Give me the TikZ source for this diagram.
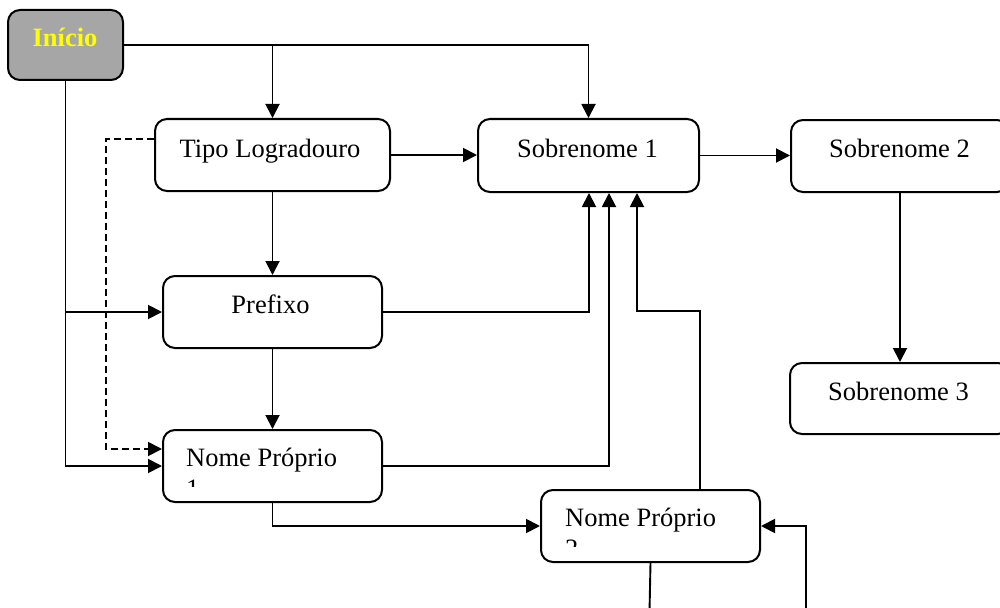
\documentclass[tikz,border=0pt]{standalone}
\usepackage{fontspec}
\setmainfont{Liberation Serif}
\usetikzlibrary{arrows.meta}
\begin{document}
\begin{tikzpicture}[x=1pt,y=-1pt,
  box/.style={draw, line width=2pt, rounded corners=12pt, inner sep=0pt, anchor=north west},
  lbl/.style={inner sep=0pt, font=\fontsize{26.5}{31}\selectfont},
  conn/.style={line width=1.9pt},
  arr/.style={conn, -{Triangle[length=14pt,width=14pt]}},
  dashline/.style={dash pattern=on 7pt off 4pt}
]
\clip (0,0) rectangle (1000,607);

% boxes
\node[box, fill={rgb,255:red,166;green,166;blue,166}, minimum width=115pt, minimum height=70pt] (ini) at (7,9) {};
\node[box, minimum width=235pt, minimum height=72pt] (tl) at (154,118) {};
\node[box, minimum width=221pt, minimum height=73pt] (s1) at (477,118) {};
\node[box, minimum width=218pt, minimum height=72pt] (s2) at (790,119) {};
\node[box, minimum width=220pt, minimum height=71pt] (s3) at (789,362) {};
\node[box, minimum width=219pt, minimum height=72pt] (pf) at (162,275) {};
\node[box, minimum width=219pt, minimum height=72pt] (n1) at (162,429) {};
\node[box, minimum width=219pt, minimum height=72pt] (n2) at (540,489) {};

% labels
\node[lbl, anchor=base, text={rgb,255:red,255;green,255;blue,0}, font=\fontsize{26.5}{31}\selectfont\bfseries] (tini) at (65,47) {Início};
\node[lbl, anchor=base] (ttl) at (270,157) {Tipo Logradouro};
\node[lbl, anchor=base] (ts1) at (587.5,157) {Sobrenome 1};
\node[lbl, anchor=base] (ts2) at (899.5,157) {Sobrenome 2};
\node[lbl, anchor=base] (ts3) at (898.5,400) {Sobrenome 3};
\node[lbl, anchor=base] (tpf) at (270.5,313) {Prefixo};
\begin{scope}
  \clip (n1.north west) rectangle (381,486);
  \node[lbl, anchor=base west] (tn1) at (186,466) {\begin{tabular}[t]{@{}l@{}}Nome Próprio\\1\end{tabular}};
\end{scope}
\begin{scope}
  \clip (n2.north west) rectangle (759,546);
  \node[lbl, anchor=base west] (tn2) at (565,526) {\begin{tabular}[t]{@{}l@{}}Nome Próprio\\2\end{tabular}};
\end{scope}

% connectors
\draw[arr] (ini.east) -| (s1.north);
\draw[arr] (tl.north |- ini.east) -- (tl.north);
\draw[arr] (ini.south) |- (n1.west);
\draw[arr] (ini.south |- pf.west) -- (pf.west);
\draw[arr, dashline] ([yshift=-21pt]tl.north west) -- ++(-48,0) |- ([yshift=17pt]n1.west);
\draw[arr] (tl.east) -- (tl.east -| s1.west);
\draw[arr] (tl.south) -- (pf.north);
\draw[arr] (pf.south) -- (n1.north);
\draw[arr] (pf.east) -| ([xshift=0.5pt]s1.south);
\draw[arr] (n1.east) -| ([xshift=20.5pt]s1.south);
\draw[arr] ([xshift=49.5pt]n2.north) -- ++(0,-178) -| ([xshift=48.5pt]s1.south);
\draw[arr] (n1.south) |- (n2.west);
\coordinate (e1) at (649.5,612);
\coordinate (e2) at (806,612);
\draw[conn] (n2.south) -- (e1);
\draw[arr] (e2) |- (n2.east);
\draw[arr] (s1.east) -- (s1.east -| s2.west);
\draw[arr] (s2.south) -- (s2.south |- s3.north);
\end{tikzpicture}
\end{document}
